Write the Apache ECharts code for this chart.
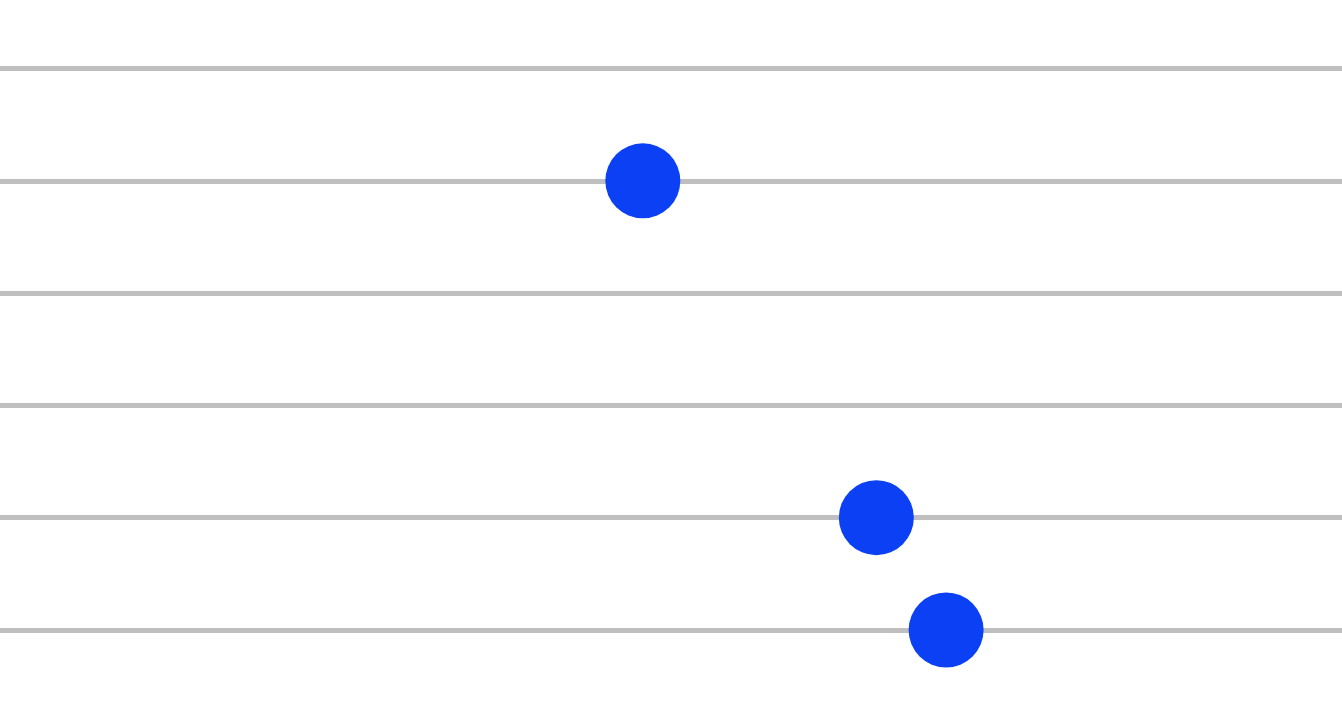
<!DOCTYPE html>
<html>
<head>
<meta charset="utf-8">
<script src="https://cdn.jsdelivr.net/npm/echarts@6/dist/echarts.min.js"></script>
<style>html,body{margin:0;padding:0;background:#fff}#c{width:1342px;height:712px}</style>
</head>
<body>
<div id="c"></div>
<script>
var categories = ['A', 'B', 'C', 'D', 'E', 'F'];
var dotCategories = ['B', 'E', 'F'];
var dotValues = [47.9, 65.3, 70.5];

var chart = echarts.init(document.getElementById('c'), null, {renderer: 'canvas'});
chart.setOption({
  animation: false,
  backgroundColor: '#ffffff',
  grid: {left: 0, right: 0, top: 68.5, bottom: 82, containLabel: false},
  xAxis: {
    type: 'value', min: 0, max: 100,
    show: false, splitLine: {show: false}
  },
  yAxis: {
    type: 'category', data: categories, inverse: true, boundaryGap: false,
    axisLine: {show: false}, axisTick: {show: false}, axisLabel: {show: false},
    splitLine: {show: true, lineStyle: {color: '#bfbfbf', width: 5}}
  },
  series: [{
    type: 'scatter',
    symbol: 'circle',
    symbolSize: 75,
    itemStyle: {color: '#0b40f5', opacity: 1},
    data: dotValues.map(function (v, i) { return [v, dotCategories[i]]; })
  }]
});
</script>
</body>
</html>
